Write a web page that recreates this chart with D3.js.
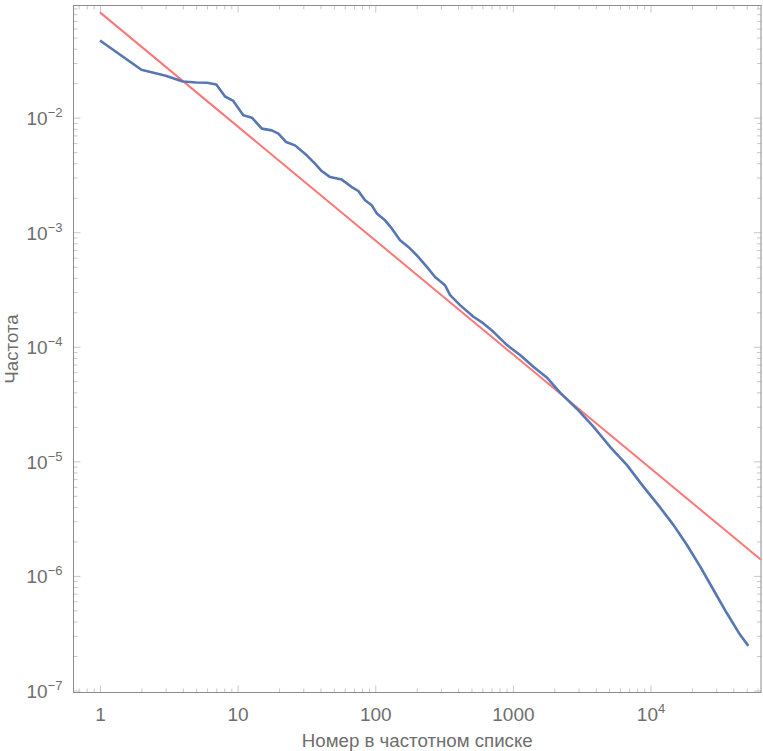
<!DOCTYPE html>
<html>
<head>
<meta charset="utf-8">
<script src="https://cdn.jsdelivr.net/npm/d3@7"></script>
<style>
  html, body { margin: 0; padding: 0; background: #fff; }
  svg { display: block; }
  text { font-family: "Liberation Sans", Arial, sans-serif; fill: #6e6e6e; }
</style>
</head>
<body>
<svg id="chart" width="763" height="751"></svg>
<script>
// ---- data ----
const ranks = [1, 2, 3, 4, 5, 6, 7, 8.1, 9.3, 11, 12.7, 15, 17.7, 19.8, 22.5, 26.1, 31.8, 36.5, 40.8, 47,
  57.1, 67.5, 75.4, 84.3, 94.3, 102.6, 117.8, 131.8, 151.4, 174, 200, 237, 272, 321, 350, 413, 517, 611,
  722, 903, 1128, 1409, 1763, 2204, 2913, 3844, 5082, 6724, 8875, 11740, 14660, 18350, 22910, 28640,
  35810, 44770, 51400];
const freqs = [0.0472, 0.0262, 0.0232, 0.0207, 0.0203, 0.0202, 0.0195, 0.0153, 0.0140, 0.0105, 0.0100,
  0.00802, 0.00775, 0.00726, 0.00613, 0.00573, 0.00469, 0.00397, 0.00342, 0.00303, 0.00288, 0.00248,
  0.00229, 0.00190, 0.00172, 0.00146, 0.00127, 0.00108, 0.000851, 0.000744, 0.000630, 0.000498,
  0.000407, 0.000345, 0.000282, 0.000231, 0.000183, 0.000160, 0.000135, 0.000104, 8.47e-5, 6.69e-5,
  5.40e-5, 3.98e-5, 2.88e-5, 2.01e-5, 1.34e-5, 9.31e-6, 6.02e-6, 3.96e-6, 2.79e-6, 1.87e-6, 1.21e-6,
  7.57e-7, 4.74e-7, 3.06e-7, 2.45e-7];
// Zipf fit line: f = C / r^s
const zipfC = 0.083;
const zipfS = 0.995;
const zipfRanks = [1, 63500];

const xTicks = [1, 10, 100, 1000, 10000];
const xTickLabels = [["1", ""], ["10", ""], ["100", ""], ["1000", ""], ["10", "4"]];
const yTicks = [1e-2, 1e-3, 1e-4, 1e-5, 1e-6, 1e-7];
const yTickLabels = [["10", "\u22122"], ["10", "\u22123"], ["10", "\u22124"], ["10", "\u22125"], ["10", "\u22126"], ["10", "\u22127"]];
const xTitle = "Номер в частотном списке";
const yTitle = "Частота";

const xDomain = [0.642, 63500];
const yDomain = [9.6e-8, 0.0953];

// ---- layout ----
const svg = d3.select("#chart");
const L = 73.5, R = 761, T = 5.5, B = 692.5;

const x = d3.scaleLog().domain(xDomain).range([L, R]);
const y = d3.scaleLog().domain(yDomain).range([B, T]);

function minorTicks(domain) {
  const out = [];
  const lo = Math.floor(Math.log10(domain[0])), hi = Math.ceil(Math.log10(domain[1]));
  for (let e = lo; e <= hi; e++) for (let m = 2; m <= 9; m++) {
    const v = m * Math.pow(10, e);
    if (v >= domain[0] && v <= domain[1]) out.push(v);
  }
  return out;
}

const tickColor = "#c8c8c8";
function styleAxis(g) {
  g.select(".domain").remove();
  g.selectAll(".tick line").attr("stroke", tickColor).attr("stroke-width", 1);
  g.selectAll(".tick text").remove();
}

// minor ticks
svg.append("g").attr("transform", `translate(0,${B})`)
  .call(d3.axisBottom(x).tickValues(minorTicks(xDomain)).tickSize(-4)).call(styleAxis);
svg.append("g").attr("transform", `translate(0,${T})`)
  .call(d3.axisTop(x).tickValues(minorTicks(xDomain)).tickSize(-4)).call(styleAxis);
svg.append("g").attr("transform", `translate(${L},0)`)
  .call(d3.axisLeft(y).tickValues(minorTicks(yDomain)).tickSize(-4)).call(styleAxis);
svg.append("g").attr("transform", `translate(${R},0)`)
  .call(d3.axisRight(y).tickValues(minorTicks(yDomain)).tickSize(-4)).call(styleAxis);

// major ticks
const xb = svg.append("g").attr("transform", `translate(0,${B})`)
  .call(d3.axisBottom(x).tickValues(xTicks).tickSize(-7)).call(styleAxis);
svg.append("g").attr("transform", `translate(0,${T})`)
  .call(d3.axisTop(x).tickValues(xTicks).tickSize(-7)).call(styleAxis);
const yl = svg.append("g").attr("transform", `translate(${L},0)`)
  .call(d3.axisLeft(y).tickValues(yTicks).tickSize(-7)).call(styleAxis);
svg.append("g").attr("transform", `translate(${R},0)`)
  .call(d3.axisRight(y).tickValues(yTicks).tickSize(-7)).call(styleAxis);

// tick labels
xb.selectAll(".tick").each(function(d, i) {
  const lab = xTickLabels[i];
  const t = d3.select(this).append("text")
    .attr("y", 28).attr("text-anchor", "middle")
    .style("font-size", "19px");
  t.append("tspan").text(lab[0]);
  if (lab[1]) t.append("tspan").attr("dy", -8).style("font-size", "13px").text(lab[1]);
});
yl.selectAll(".tick").each(function(d, i) {
  const lab = yTickLabels[i];
  const t = d3.select(this).append("text")
    .attr("x", -11).attr("y", 7).attr("text-anchor", "end")
    .style("font-size", "19px");
  t.append("tspan").text(lab[0]);
  t.append("tspan").attr("dy", -8).style("font-size", "13px").text(lab[1]);
});

// frame
svg.append("rect").attr("x", L).attr("y", T).attr("width", R - L).attr("height", B - T)
  .attr("fill", "none").attr("stroke", "#8c8c8c").attr("stroke-width", 1);

// clip
svg.append("clipPath").attr("id", "clip").append("rect")
  .attr("x", L).attr("y", T).attr("width", R - L).attr("height", B - T);

const line = d3.line().x(d => x(d[0])).y(d => y(d[1]));

svg.append("path")
  .datum(zipfRanks.map(r => [r, zipfC / Math.pow(r, zipfS)]))
  .attr("clip-path", "url(#clip)")
  .attr("d", line).attr("fill", "none")
  .attr("stroke", "#ff7676").attr("stroke-width", 2);

svg.append("path")
  .datum(ranks.map((r, i) => [r, freqs[i]]))
  .attr("clip-path", "url(#clip)")
  .attr("d", line).attr("fill", "none")
  .attr("stroke", "#5677b3").attr("stroke-width", 2.6)
  .attr("stroke-linejoin", "round");

// axis titles
svg.append("text").attr("x", (L + R) / 2).attr("y", 747)
  .attr("text-anchor", "middle").style("font-size", "18.7px").text(xTitle);
svg.append("text")
  .attr("transform", `translate(18,${(T + B) / 2}) rotate(-90)`)
  .attr("text-anchor", "middle").style("font-size", "18.7px").text(yTitle);
</script>
</body>
</html>
